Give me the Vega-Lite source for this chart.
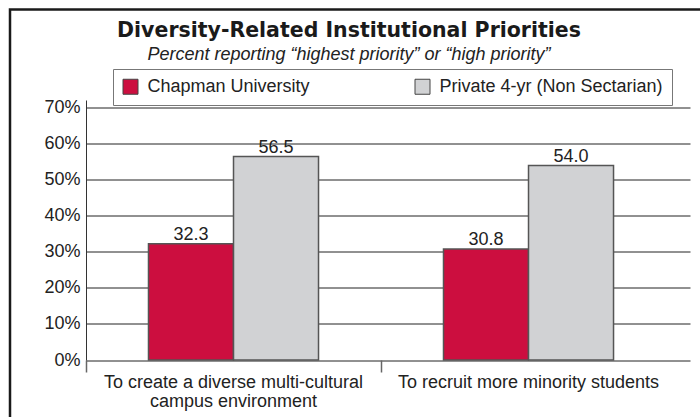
{
  "$schema": "https://vega.github.io/schema/vega-lite/v6.json",
  "width": 700,
  "height": 420,
  "autosize": "none",
  "padding": {"left": 10, "top": 9.5, "right": 0, "bottom": 0},
  "background": "white",
  "title": {
    "text": "Diversity-Related Institutional Priorities",
    "subtitle": "Percent reporting “highest priority” or “high priority”",
    "anchor": "middle",
    "frame": "group",
    "dx": -11,
    "offset": -54,
    "font": "DejaVu Sans",
    "fontSize": 20.5,
    "fontWeight": "bold",
    "color": "#1a1a1a",
    "subtitleFont": "Liberation Sans",
    "subtitleFontSize": 18,
    "subtitleFontStyle": "italic",
    "subtitleColor": "#222222",
    "subtitlePadding": 4
  },
  "data": {
    "values": [
      {"priority": "To create a diverse multi-cultural campus environment", "group": "Chapman University", "value": 32.3},
      {"priority": "To create a diverse multi-cultural campus environment", "group": "Private 4-yr (Non Sectarian)", "value": 56.5},
      {"priority": "To recruit more minority students", "group": "Chapman University", "value": 30.8},
      {"priority": "To recruit more minority students", "group": "Private 4-yr (Non Sectarian)", "value": 54.0}
    ]
  },
  "encoding": {
    "x": {
      "field": "priority",
      "type": "nominal",
      "sort": null,
      "scale": {"range": [76, 680], "paddingInner": 0, "paddingOuter": 0.0237, "align": 0},
      "axis": {
        "title": null,
        "offset": -69.5,
        "domain": false,
        "bandPosition": 0,
        "ticks": true,
        "tickSize": 12,
        "tickWidth": 1.5,
        "tickColor": "#666666",
        "labelAngle": 0,
        "labelFont": "Liberation Sans",
        "labelFontSize": 18,
        "labelColor": "#222222",
        "labelPadding": 1,
        "labelLineHeight": 19,
        "labelLimit": 400,
        "labelExpr": "datum.label == 'To create a diverse multi-cultural campus environment' ? ['To create a diverse multi-cultural', 'campus environment'] : datum.label"
      }
    },
    "xOffset": {
      "field": "group",
      "type": "nominal",
      "sort": null,
      "scale": {"paddingInner": 0, "paddingOuter": 0.735}
    },
    "y": {
      "field": "value",
      "type": "quantitative",
      "scale": {"domain": [0, 72.2], "range": [350.5, 90.5], "nice": false, "zero": true},
      "axis": {
        "title": null,
        "offset": -76,
        "values": [0, 10, 20, 30, 40, 50, 60, 70],
        "labelExpr": "datum.value + '%'",
        "ticks": false,
        "labelPadding": 6,
        "labelFont": "Liberation Sans",
        "labelFontSize": 18,
        "labelColor": "#222222",
        "domainColor": "#333333",
        "domainWidth": 1,
        "grid": true,
        "gridColor": "#222222",
        "gridWidth": 1
      }
    }
  },
  "layer": [
    {
      "mark": {"type": "bar", "stroke": "#555555", "strokeWidth": 1.5},
      "encoding": {
        "color": {
          "field": "group",
          "type": "nominal",
          "sort": null,
          "scale": {"domain": ["Chapman University", "Private 4-yr (Non Sectarian)"], "range": ["#CC0E3F", "#D1D2D4"]},
          "legend": {
            "title": null,
            "orient": "none",
            "legendX": 103,
            "legendY": 59.5,
            "direction": "horizontal",
            "strokeColor": "#777777",
            "padding": 8.5,
            "columnPadding": 102,
            "symbolType": "square",
            "symbolSize": 225,
            "symbolStrokeColor": "#444444",
            "symbolStrokeWidth": 1,
            "symbolOpacity": 1,
            "labelOffset": 8,
            "labelFont": "Liberation Sans",
            "labelFontSize": 18,
            "labelColor": "#222222",
            "labelLimit": 400
          }
        }
      }
    },
    {
      "mark": {"type": "text", "baseline": "alphabetic", "dy": -4, "font": "Liberation Sans", "fontSize": 18, "color": "#222222"},
      "encoding": {
        "text": {"field": "value", "type": "quantitative", "format": ".1f"}
      }
    }
  ],
  "config": {
    "view": {"stroke": "#1a1a1a", "strokeWidth": 2.5}
  }
}
